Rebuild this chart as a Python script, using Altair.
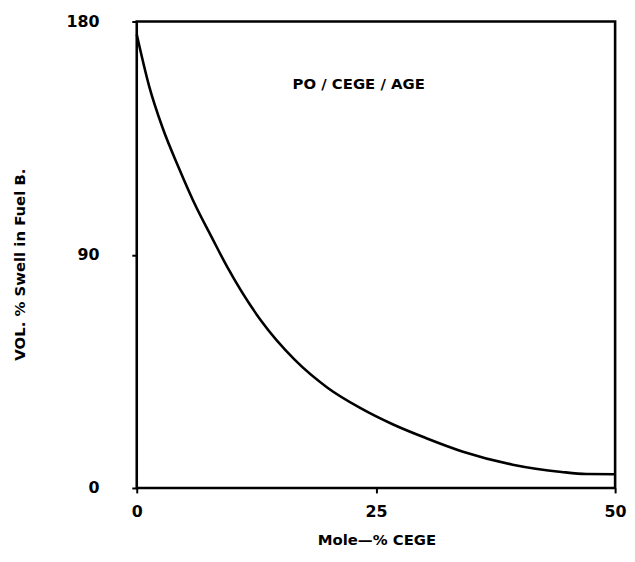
import altair as alt
import pandas as pd

# Curve
mole_pct = [0, 1.3, 2.7, 4.4, 6.2, 7.8, 9.5, 13.0, 16.5, 19.9, 23.3, 26.8, 30.2, 34.1, 39.3, 44.4, 47.0, 50.0]
swell = [175.0, 155.0, 139.0, 123.5, 108.5, 97.0, 85.0, 64.5, 49.5, 38.8, 31.0, 24.5, 19.3, 14.0, 9.0, 6.2, 5.4, 5.3]

x_ticks = [0, 25, 50]
y_ticks = [0, 90, 180]

label_text = ["PO / CEGE / AGE"]
label_x = [23.2]
label_y = [156]

FONT = "DejaVu Sans"

df = pd.DataFrame({"x": mole_pct, "y": swell})
lab = pd.DataFrame({"x": label_x, "y": label_y, "t": label_text})

xs = alt.Scale(domain=[0, 50], nice=False, zero=False)
ys = alt.Scale(domain=[0, 180], nice=False, zero=False)

line = alt.Chart(df).mark_line(
    color="black", strokeWidth=2.6, interpolate="monotone"
).encode(
    x=alt.X("x:Q", scale=xs, axis=alt.Axis(
        values=x_ticks, title="Mole—% CEGE", grid=False, domain=False,
        tickColor="black", tickSize=5, tickWidth=2, labelPadding=11,
        labelFont=FONT, labelFontSize=16, labelFontWeight="bold", labelColor="black",
        titleFont=FONT, titleFontSize=15, titleFontWeight="bold", titleColor="black",
        titleY=52, titleBaseline="middle", titleX=242,
        labelFlush=False,
    )),
    y=alt.Y("y:Q", scale=ys, axis=alt.Axis(
        values=y_ticks, title="VOL. % Swell in Fuel B.", grid=False, domain=False,
        tickColor="black", tickSize=5, tickWidth=2, labelPadding=33,
        labelFont=FONT, labelFontSize=16, labelFontWeight="bold", labelColor="black",
        titleFont=FONT, titleFontSize=15, titleFontWeight="bold", titleColor="black",
        titleX=-118, titleY=245, titleAngle=-90, titleBaseline="middle",
        labelFlush=False,
    )),
)

text = alt.Chart(lab).mark_text(
    font=FONT, fontSize=15, fontWeight="bold", color="black"
).encode(
    x=alt.X("x:Q", scale=xs), y=alt.Y("y:Q", scale=ys), text="t:N"
)

chart = (line + text).properties(
    width=483, height=471,
    autosize=alt.AutoSizeParams(type="none"),
    padding={"left": 130, "top": 11, "right": 12, "bottom": 60},
    background="white",
).configure_view(stroke="black", strokeWidth=2.6)

chart.save("out.html", embed_options={"renderer": "svg", "actions": False})
